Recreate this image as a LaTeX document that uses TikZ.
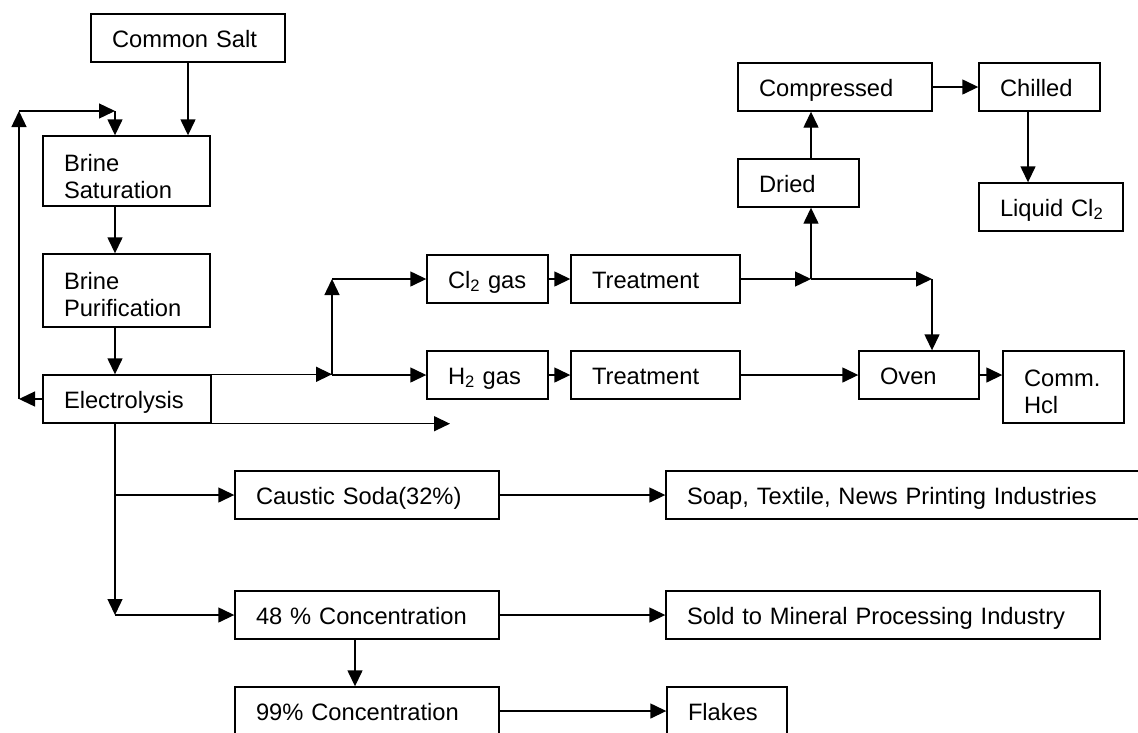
\documentclass[tikz,border=0pt]{standalone}
\usepackage{fontspec}
\setmainfont{Liberation Sans}
\usetikzlibrary{arrows.meta}
\newcommand\boxfont{\fontsize{23.7}{27}\selectfont}

\begin{document}
\begin{tikzpicture}[x=1pt,y=-1pt,
  box/.style={draw, line width=1.4pt, inner xsep=21pt, inner ysep=0pt,
              align=left, font=\boxfont, minimum height=48pt,
              text height=18pt, text depth=0pt},
  twoline/.style={text height=25pt, text depth=25pt},
  conn/.style={line width=1.4pt},
  arr/.style={conn, -{Triangle[length=16pt,width=15pt]}}]
\path[use as bounding box] (0,0) rectangle (1138,732);
\clip (0,0) rectangle (1138,732);

% brine preparation column
\node[box, text width=152pt] (salt) at (188,38) {\mbox{Common Salt}};
\node[box, twoline, text width=125pt, minimum height=70pt] (sat) at (126.5,171) {Brine\\Saturation};
\node[box, twoline, text width=125pt, minimum height=73pt, text height=24pt, text depth=27pt] (pur) at (126.5,290.5) {Brine\\Purification};
\node[box, text width=126pt] (elec) at (127,399) {\mbox{Electrolysis}};

% chlorine and hydrogen lines
\node[box, text width=79pt] (cl2) at (487.5,279) {\mbox{Cl\textsubscript{2} gas}};
\node[box, text width=127pt] (tr1) at (655.5,279) {\mbox{Treatment}};
\node[box, text width=79pt] (h2) at (487.5,375) {\mbox{H\textsubscript{2} gas}};
\node[box, text width=127pt] (tr2) at (655.5,375) {\mbox{Treatment}};

% chlorine liquefaction
\node[box, text width=79pt] (dried) at (798.5,183) {\mbox{Dried}};
\node[box, text width=152pt] (comp) at (835,87) {\mbox{Compressed}};
\node[box, text width=79pt] (chill) at (1039.5,87) {\mbox{Chilled}};
\node[box, text width=102pt] (liq) at (1051,207) {\mbox{Liquid Cl\textsubscript{2}}};

% hydrochloric acid
\node[box, text width=78pt] (oven) at (919,375) {\mbox{Oven}};
\node[box, twoline, text width=79pt, minimum height=72pt, text height=24pt, text depth=26pt] (hcl) at (1063.5,387) {Comm.\\Hcl};

% caustic soda products
\node[box, text width=222pt] (caus) at (367,495) {\mbox{Caustic Soda(32\%)}};
\node[box, text width=452pt] (soap) at (913,495) {\mbox{Soap, Textile, News Printing Industries}};
\node[box, text width=222pt] (c48) at (367,615) {\mbox{48 \% Concentration}};
\node[box, text width=392pt] (sold) at (883,615) {\mbox{Sold to Mineral Processing Industry}};
\node[box, text width=222pt] (c99) at (367,711) {\mbox{99\% Concentration}};
\node[box, text width=78pt] (flakes) at (727,711) {\mbox{Flakes}};

% routing points
\coordinate (colx) at (115,0);
\coordinate (lpA) at (19,399);
\coordinate (lpB) at (19,111);
\coordinate (lpC) at (115,111);
\coordinate (spA) at (332,375);
\coordinate (spB) at (332,279);
\coordinate (xout) at (450,423);
\coordinate (jA) at (811,279);
\coordinate (jB) at (932,279);
\coordinate (lq) at (1028,0);
\coordinate (bA) at (115,495);
\coordinate (bB) at (115,615);
\coordinate (cx) at (355,0);

% brine circuit
\draw[arr] (salt.south) -- (salt.south |- sat.north);
\draw[arr] (elec.west) -- (lpA);
\draw[arr] (lpA) -- (lpB);
\draw[arr] (lpB) -- (lpC);
\draw[arr] (lpC) -- (lpC |- sat.north);
\draw[arr] (sat.south -| colx) -- (pur.north -| colx);
\draw[arr] (pur.south -| colx) -- (elec.north -| colx);

% gases from the cell
\draw[arr] (elec.north east) -- (elec.north east -| spA);
\draw[arr] (spA) -- (h2.west);
\draw[arr] (spA) -- (spB);
\draw[arr] (spB) -- (cl2.west);
\draw[arr] (elec.south east) -- (elec.south east -| xout);
\draw[arr] (cl2) -- (tr1);
\draw[arr] (h2) -- (tr2);
\draw[arr] (tr1.east) -- (jA);
\draw[arr] (jA) -- (jB);
\draw[arr] (jA) -- (jA |- dried.south);
\draw[arr] (jB) -- (jB |- oven.north);
\draw[arr] (dried.north -| jA) -- (comp.south -| jA);
\draw[arr] (comp) -- (chill);
\draw[arr] (chill.south -| lq) -- (liq.north -| lq);
\draw[arr] (tr2) -- (oven);
\draw[arr] (oven.east) -- (oven.east -| hcl.west);

% caustic soda
\draw[arr] (elec.south -| colx) -- (bB);
\draw[arr] (bA) -- (caus.west);
\draw[arr] (bB) -- (c48.west);
\draw[arr] (caus) -- (soap);
\draw[arr] (c48) -- (sold);
\draw[arr] (c48.south -| cx) -- (c99.north -| cx);
\draw[arr] (c99) -- (flakes);
\end{tikzpicture}
\end{document}
